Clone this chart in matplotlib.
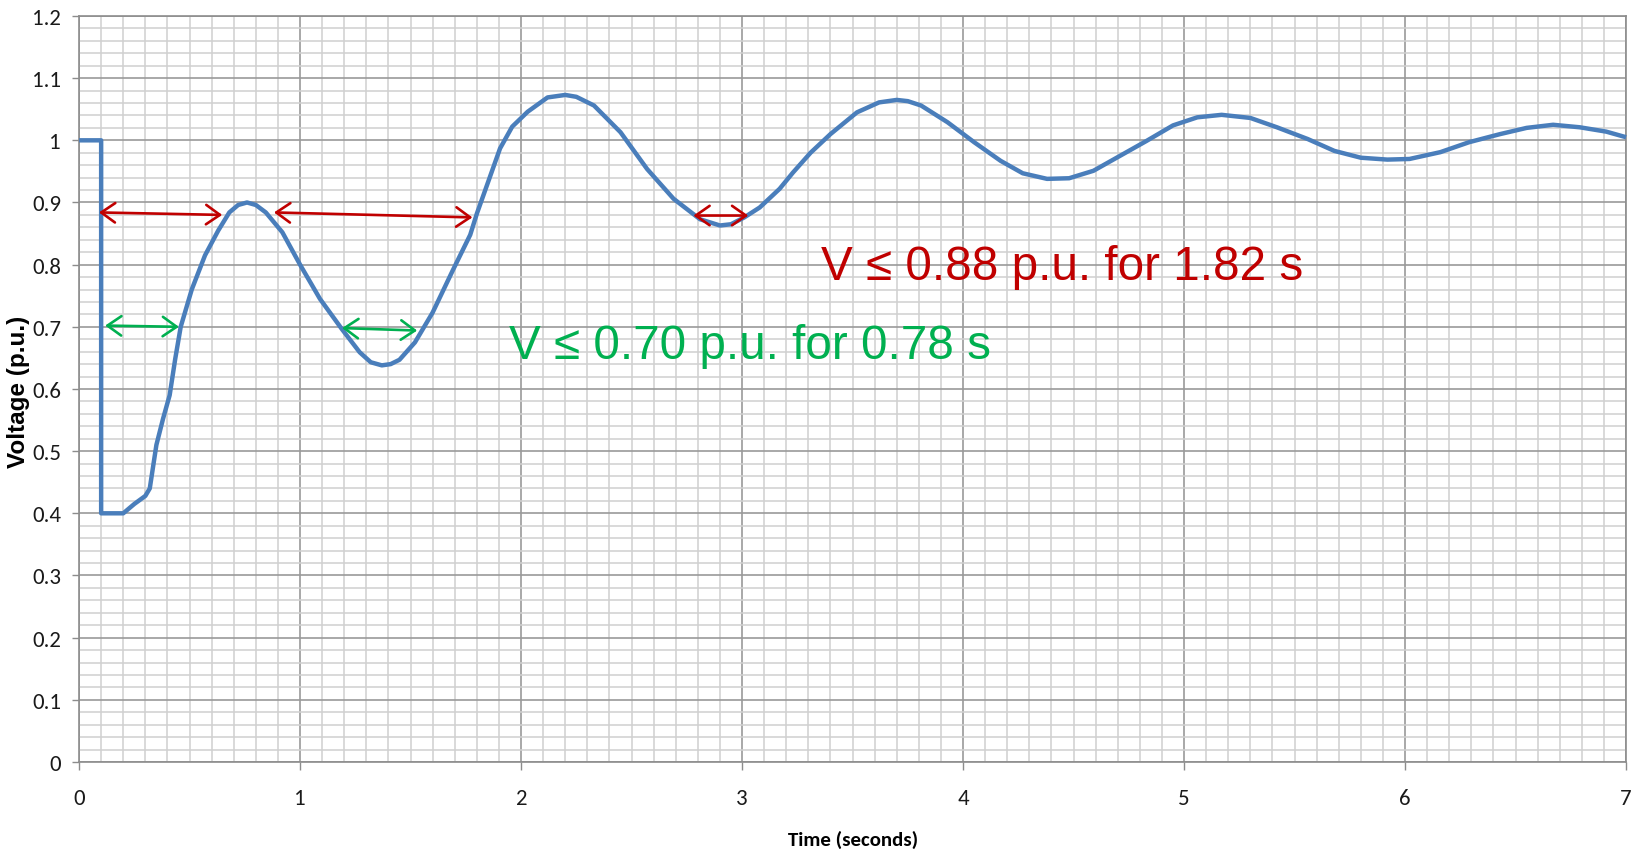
import matplotlib
matplotlib.use("Agg")
import matplotlib.pyplot as plt
from matplotlib.ticker import MultipleLocator, FuncFormatter

# Voltage recovery trace after a fault (time in s, voltage in p.u.)
time_s = [0.00, 0.10, 0.10, 0.20, 0.25, 0.30, 0.32, 0.35, 0.38, 0.41, 0.435,
          0.46, 0.51, 0.57, 0.63, 0.68, 0.72, 0.76, 0.80, 0.845, 0.92, 1.00,
          1.09, 1.19, 1.27, 1.32, 1.37, 1.41, 1.45, 1.52, 1.60, 1.69, 1.77,
          1.80, 1.855, 1.905, 1.96, 2.03, 2.12, 2.20, 2.25, 2.33, 2.45, 2.57,
          2.69, 2.81, 2.90, 2.95, 3.01, 3.08, 3.17, 3.23, 3.31, 3.40, 3.52,
          3.62, 3.70, 3.75, 3.81, 3.93, 4.05, 4.17, 4.27, 4.38, 4.48, 4.59,
          4.71, 4.83, 4.95, 5.06, 5.17, 5.30, 5.42, 5.56, 5.68, 5.80, 5.92,
          6.02, 6.16, 6.29, 6.43, 6.55, 6.67, 6.79, 6.91, 7.00]
voltage_pu = [1.000, 1.000, 0.400, 0.400, 0.415, 0.428, 0.440, 0.510, 0.552,
              0.590, 0.648, 0.700, 0.760, 0.815, 0.855, 0.884, 0.896, 0.900,
              0.896, 0.884, 0.852, 0.800, 0.745, 0.696, 0.659, 0.643, 0.638,
              0.640, 0.647, 0.675, 0.723, 0.790, 0.848, 0.882, 0.937, 0.987,
              1.022, 1.046, 1.069, 1.073, 1.070, 1.056, 1.013, 0.954, 0.906,
              0.873, 0.863, 0.865, 0.876, 0.892, 0.922, 0.948, 0.980, 1.010,
              1.045, 1.061, 1.065, 1.063, 1.056, 1.029, 0.997, 0.967, 0.947,
              0.938, 0.939, 0.951, 0.975, 0.999, 1.024, 1.037, 1.041, 1.036,
              1.021, 1.002, 0.983, 0.972, 0.969, 0.970, 0.981, 0.997, 1.010,
              1.020, 1.025, 1.021, 1.014, 1.005]

# Duration markers: ((t_start, v_start), (t_end, v_end))
red_spans = [((0.09, 0.884), (0.648, 0.880)),
             ((0.882, 0.884), (1.78, 0.876)),
             ((2.78, 0.879), (3.028, 0.879))]
green_spans = [((0.118, 0.702), (0.452, 0.700)),
               ((1.19, 0.698), (1.53, 0.694))]

red_label = "V \u2264 0.88 p.u. for 1.82 s"
green_label = "V \u2264 0.70 p.u. for 0.78 s"
red_label_pos = (3.357, 0.777)
green_label_pos = (1.946, 0.650)

x_label = "Time (seconds)"
y_label = "Voltage (p.u.)"

RED = "#c00000"
GREEN = "#00b050"
LINE = "#4a7ebb"
tick_font = ["Carlito", "Lato", "DejaVu Sans"]

fig = plt.figure(figsize=(16.4, 8.54), dpi=100)
ax = fig.add_axes([0.0482, 0.1066, 0.9433, 0.8735])

ax.set_xlim(0, 7)
ax.set_ylim(0, 1.2)
ax.xaxis.set_major_locator(MultipleLocator(1))
ax.xaxis.set_minor_locator(MultipleLocator(0.1))
ax.yaxis.set_major_locator(MultipleLocator(0.1))
ax.yaxis.set_minor_locator(MultipleLocator(0.02))

def yfmt(v, _):
    s = f"{v:.1f}"
    if s.endswith(".0"):
        s = s[:-2]
    return s

ax.yaxis.set_major_formatter(FuncFormatter(yfmt))
ax.xaxis.set_major_formatter(FuncFormatter(lambda v, _: f"{int(round(v))}"))

ax.grid(which="major", color="#9a9a9a", lw=1.2, zorder=1)
ax.grid(which="minor", color="#d0d0d0", lw=1.1, zorder=0)
ax.set_axisbelow(True)

for side in ["left", "bottom", "top", "right"]:
    ax.spines[side].set_color("#8c8c8c")
    ax.spines[side].set_linewidth(1.2)

ax.tick_params(axis="x", which="major", direction="out", length=6, width=1.0,
               color="#8c8c8c", pad=13, labelsize=16.5, labelcolor="#1a1a1a")
ax.tick_params(axis="y", which="major", direction="out", length=5, width=1.0,
               color="#8c8c8c", pad=8, labelsize=16.5, labelcolor="#1a1a1a")
ax.tick_params(which="minor", length=0)
for lab in ax.get_xticklabels() + ax.get_yticklabels():
    lab.set_family(tick_font)

ax.plot(time_s, voltage_pu, color=LINE, lw=3.2, solid_joinstyle="round",
        solid_capstyle="butt", zorder=3, clip_on=False)

arrow_style = "<->,head_length=1.0,head_width=0.7"
for (a, b) in red_spans:
    ax.annotate("", xy=b, xytext=a,
                arrowprops=dict(arrowstyle=arrow_style, color=RED, lw=1.9,
                                shrinkA=0, shrinkB=0, mutation_scale=10),
                zorder=4)
for (a, b) in green_spans:
    ax.annotate("", xy=b, xytext=a,
                arrowprops=dict(arrowstyle=arrow_style, color=GREEN, lw=1.9,
                                shrinkA=0, shrinkB=0, mutation_scale=10),
                zorder=4)

ax.text(*red_label_pos, red_label, color=RED, fontsize=34.3,
        family=["Liberation Sans", "DejaVu Sans"], ha="left", va="baseline",
        zorder=5)
ax.text(*green_label_pos, green_label, color=GREEN, fontsize=34.3,
        family=["Liberation Sans", "DejaVu Sans"], ha="left", va="baseline",
        zorder=5)

fig.text(853 / 1640, 1 - 840 / 854, x_label, fontsize=15, fontweight="bold",
         family=tick_font, ha="center", va="center")
fig.text(19 / 1640, 1 - 392 / 854, y_label, fontsize=17.5, fontweight="bold",
         family=["Liberation Sans", "DejaVu Sans"], ha="center", va="center",
         rotation=90)

fig.savefig("out.png", dpi=100)
